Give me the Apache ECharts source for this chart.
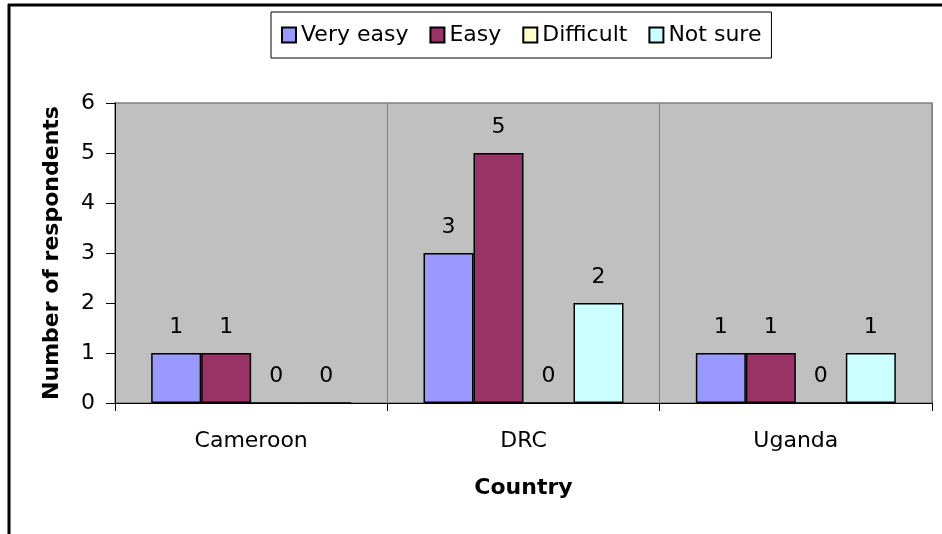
<!DOCTYPE html>
<html>
<head>
<meta charset="utf-8">
<script src="https://cdn.jsdelivr.net/npm/echarts@6/dist/echarts.min.js"></script>
<style>
html,body{margin:0;padding:0;background:#fff;}
#chart{width:942px;height:534px;}
</style>
</head>
<body>
<div id="chart"></div>
<script>
const categories = ['Cameroon', 'DRC', 'Uganda'];
const seriesNames = ['Very easy', 'Easy', 'Difficult', 'Not sure'];
const veryEasy = [1, 3, 1];
const easy = [1, 5, 1];
const difficult = [0, 0, 0];
const notSure = [0, 2, 1];
const yTicks = [0, 1, 2, 3, 4, 5, 6];

const colors = ['#9999FF', '#993366', '#FFFFCC', '#CCFFFF'];
const values = [veryEasy, easy, difficult, notSure];
const FONT = 'DejaVu Sans';

const chart = echarts.init(document.getElementById('chart'), null, {renderer: 'canvas'});

chart.setOption({
  animation: false,
  backgroundColor: '#ffffff',
  textStyle: {fontFamily: FONT},
  graphic: [
    {type: 'line', shape: {x1: 8, y1: 5, x2: 942, y2: 5}, style: {stroke: '#000', lineWidth: 3}, z: 100},
    {type: 'line', shape: {x1: 9, y1: 4, x2: 9, y2: 534}, style: {stroke: '#000', lineWidth: 3}, z: 100}
  ],
  legend: {
    left: 271,
    top: 12,
    padding: [12, 10],
    itemGap: 21,
    itemWidth: 14,
    itemHeight: 15,
    borderColor: '#000',
    borderWidth: 1,
    backgroundColor: '#fff',
    icon: 'rect',
    data: seriesNames,
    textStyle: {fontFamily: FONT, fontSize: 22, color: '#000'}
  },
  grid: {
    left: 115,
    right: 10,
    top: 103,
    bottom: 131,
    show: true,
    backgroundColor: '#C0C0C0',
    borderColor: '#808080',
    borderWidth: 1.5,
    containLabel: false
  },
  xAxis: {
    type: 'category',
    data: categories,
    name: 'Country',
    nameLocation: 'middle',
    nameGap: 74,
    nameTextStyle: {fontFamily: FONT, fontSize: 22, fontWeight: 'bold', color: '#000'},
    axisLine: {show: true, lineStyle: {color: '#000', width: 1}},
    axisTick: {show: true, length: 8, lineStyle: {color: '#000'}},
    axisLabel: {fontFamily: FONT, fontSize: 22, color: '#000', margin: 27},
    splitLine: {show: true, lineStyle: {color: '#808080', width: 1}}
  },
  yAxis: {
    type: 'value',
    min: 0,
    max: 6,
    interval: 1,
    name: 'Number of respondents',
    nameLocation: 'middle',
    nameGap: 52,
    nameTextStyle: {fontFamily: FONT, fontSize: 22, fontWeight: 'bold', color: '#000'},
    axisLine: {show: true, lineStyle: {color: '#000', width: 1}},
    axisTick: {show: true, length: 9, lineStyle: {color: '#000'}},
    axisLabel: {
      fontFamily: FONT, fontSize: 22, color: '#000', margin: 20,
      formatter: function (v) { return yTicks.indexOf(v) >= 0 ? String(v) : ''; }
    },
    splitLine: {show: false}
  },
  series: seriesNames.map(function (name, i) {
    return {
      name: name,
      type: 'bar',
      data: values[i],
      barWidth: 50,
      barGap: '0%',
      itemStyle: {color: colors[i], borderColor: '#000', borderWidth: 1.5},
      label: {
        show: true,
        position: 'top',
        distance: 15,
        fontFamily: FONT,
        fontSize: 22,
        color: '#000'
      }
    };
  })
});
</script>
</body>
</html>
